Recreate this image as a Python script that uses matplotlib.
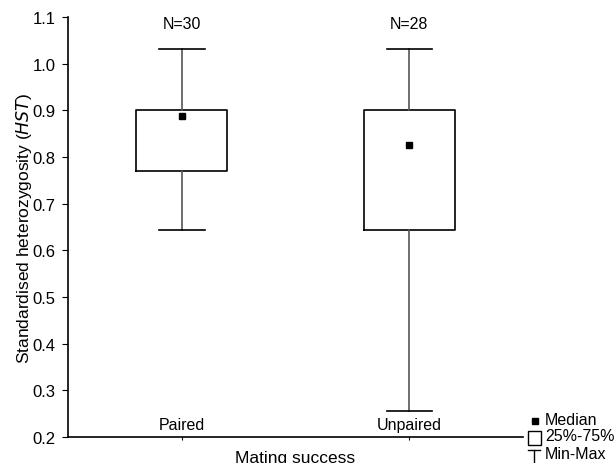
import matplotlib.pyplot as plt
from matplotlib.patches import Rectangle
from matplotlib.lines import Line2D

plt.rcParams['font.family'] = ['Liberation Sans', 'DejaVu Sans']

# Heterozygosity summary by mating success
groups = ['Paired', 'Unpaired']
counts = [30, 28]
medians = [0.888, 0.826]
q1 = [0.771, 0.644]
q3 = [0.901, 0.901]
mins = [0.644, 0.256]
maxs = [1.031, 1.031]

fig = plt.figure(figsize=(6.15, 4.64), dpi=100)
ax = fig.add_axes([68 / 615, 1 - 438 / 464, 455 / 615, 420 / 464])

pos = list(range(1, len(groups) + 1))
stats = [dict(med=m, q1=a, q3=b, whislo=lo, whishi=hi, fliers=[])
         for m, a, b, lo, hi in zip(medians, q1, q3, mins, maxs)]
ax.bxp(stats, positions=pos, widths=0.4, capwidths=0.2, showfliers=False,
       boxprops=dict(color='black', linewidth=1.2),
       whiskerprops=dict(color='#555555', linewidth=1.2),
       capprops=dict(color='black', linewidth=1.2),
       medianprops=dict(linestyle='none'))
ax.plot(pos, medians, 's', color='black', markersize=5, zorder=5)

for p, n in zip(pos, counts):
    ax.text(p, 1.087, f'N={n}', ha='center', va='center', fontsize=11.5)

# category names sit inside the plot, just above the axis
for p, g in zip(pos, groups):
    ax.text(p, 0.226, g, ha='center', va='center', fontsize=11.5)

ax.set_xlim(0.5, 2.5)
ax.set_ylim(0.2, 1.1)
ax.set_yticks([0.2, 0.3, 0.4, 0.5, 0.6, 0.7, 0.8, 0.9, 1.0, 1.1])
ax.set_yticklabels([f'{v:.1f}' for v in ax.get_yticks()])
ax.set_xticks(pos)
ax.set_xticklabels([])
ax.tick_params(axis='y', direction='out', length=4, labelsize=12, pad=5)
ax.tick_params(axis='x', direction='out', length=2)
ax.spines['top'].set_visible(False)
ax.spines['right'].set_visible(False)
for s in ('left', 'bottom'):
    ax.spines[s].set_linewidth(1.2)

ax.set_ylabel('Standardised heterozygosity ($\\it{HST}$)', fontsize=12.5, labelpad=-1)
ax.set_xlabel('Mating success', fontsize=12.5, labelpad=4)

# key in the lower right corner
fig.add_artist(Line2D([535 / 615], [1 - 422 / 464], marker='s', color='black',
                      markersize=5, linestyle='none', transform=fig.transFigure))
fig.add_artist(Rectangle((528 / 615, 1 - 446 / 464), 13 / 615, 14 / 464,
                         facecolor='white', edgecolor='black', linewidth=1,
                         transform=fig.transFigure))
fig.add_artist(Line2D([528 / 615, 540 / 615], [1 - 451 / 464, 1 - 451 / 464],
                      color='black', linewidth=1, transform=fig.transFigure))
fig.add_artist(Line2D([534 / 615, 534 / 615], [1 - 451 / 464, 0],
                      color='black', linewidth=1, transform=fig.transFigure))
for y, t in zip([421, 437, 455], ['Median', '25%-75%', 'Min-Max']):
    fig.text(545 / 615, 1 - y / 464, t, ha='left', va='center', fontsize=11.5)

fig.savefig('out.png', dpi=100)
